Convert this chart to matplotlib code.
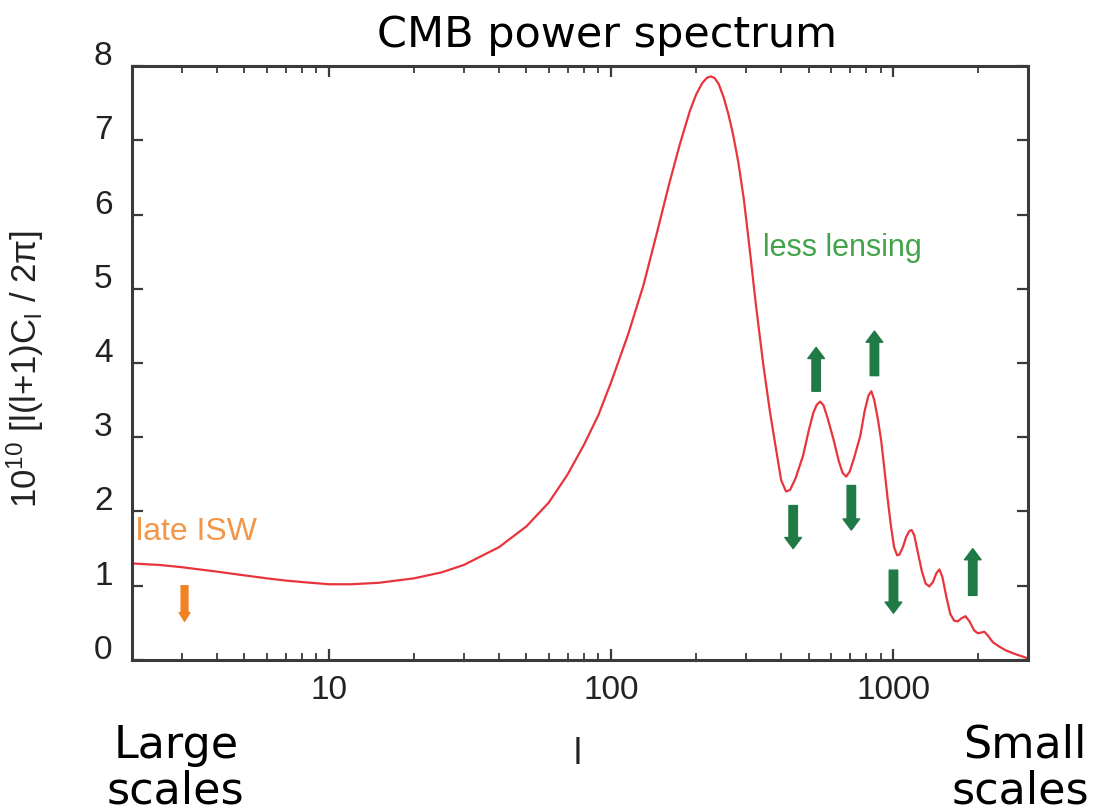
import matplotlib.pyplot as plt
from matplotlib.transforms import ScaledTranslation

# multipole l and 10^10 l(l+1)C_l/2pi
multipole = [2, 2.5, 3, 4, 5, 6, 7, 8, 10, 12, 15, 20, 25, 30, 40, 50, 60, 70, 80, 90,
             100, 115, 130, 145, 160, 175, 190, 200, 210, 218, 225, 232, 240, 250, 260,
             270, 282, 295, 310, 325, 345, 365, 385, 400, 416, 430, 450, 478, 500, 520,
             535, 550, 565, 585, 612, 640, 660, 680, 700, 725, 763, 790, 815, 835, 855,
             880, 905, 930, 955, 980, 1005, 1030, 1050, 1080, 1110, 1140, 1160, 1185,
             1220, 1260, 1300, 1340, 1380, 1420, 1455, 1490, 1540, 1590, 1640, 1690,
             1740, 1800, 1860, 1930, 1990, 2050, 2100, 2160, 2250, 2350, 2500, 2700,
             2850, 3000]
power = [1.30, 1.28, 1.25, 1.19, 1.14, 1.10, 1.07, 1.05, 1.02, 1.02, 1.04, 1.10, 1.18,
         1.28, 1.52, 1.80, 2.12, 2.50, 2.90, 3.30, 3.75, 4.40, 5.05, 5.75, 6.40, 6.95,
         7.40, 7.62, 7.77, 7.84, 7.86, 7.84, 7.76, 7.58, 7.35, 7.08, 6.70, 6.20, 5.50,
         4.80, 4.00, 3.34, 2.80, 2.42, 2.27, 2.29, 2.45, 2.75, 3.08, 3.33, 3.44, 3.48,
         3.43, 3.25, 2.98, 2.68, 2.52, 2.47, 2.54, 2.72, 3.02, 3.35, 3.56, 3.62, 3.50,
         3.25, 2.95, 2.55, 2.15, 1.80, 1.52, 1.41, 1.42, 1.52, 1.66, 1.74, 1.75, 1.68,
         1.45, 1.20, 1.03, 0.99, 1.05, 1.17, 1.22, 1.12, 0.85, 0.62, 0.53, 0.52,
         0.56, 0.59, 0.52, 0.40, 0.36, 0.37, 0.38, 0.33, 0.24, 0.19, 0.13, 0.08,
         0.05, 0.02]

# lensing arrows (green): position in l, start and end value
arrow_l = [441, 532, 709, 856, 1000, 1910]
arrow_from = [2.08, 3.62, 2.35, 3.83, 1.21, 0.87]
arrow_to = [1.50, 4.21, 1.75, 4.43, 0.63, 1.50]

# late ISW arrow (orange)
isw_l = [3.07]
isw_from = [1.0]
isw_to = [0.52]

yticks = [0, 1, 2, 3, 4, 5, 6, 7, 8]
xticks = [10, 100, 1000]

narrow = ['Liberation Sans Narrow', 'Liberation Sans', 'DejaVu Sans']
edge = '#3a3a3a'

fig = plt.figure(figsize=(10.93, 8.11), dpi=100)
ax = fig.add_axes([0.1208, 0.1862, 0.8198, 0.7324])

ax.plot(multipole, power, color='#e8343c', lw=1.6)

ax.set_xscale('log')
ax.set_xlim(2, 3000)
ax.set_ylim(0, 8)
ax.set_yticks(yticks)
ax.set_xticks(xticks)
ax.set_xticklabels([str(t) for t in xticks])

for s in ax.spines.values():
    s.set_color(edge)
    s.set_linewidth(2.2)
ax.tick_params(which='both', direction='in', top=True, right=True, color=edge)
ax.tick_params(which='major', length=8, width=1.6, labelsize=24)
ax.tick_params(axis='y', pad=14)
ax.tick_params(axis='x', pad=11)
ax.tick_params(which='minor', length=5, width=1.3)
ax.tick_params(axis='y', which='minor', left=False, right=False)
for lab in ax.get_xticklabels() + ax.get_yticklabels():
    lab.set_family(narrow)
    lab.set_color('#222222')
shift = ScaledTranslation(0, 0.13, fig.dpi_scale_trans)
for lab in ax.get_yticklabels():
    lab.set_transform(lab.get_transform() + shift)

ax.set_ylabel(r'$\mathregular{10^{10}}$ [l(l+1)C$_\mathregular{l}$ / 2π]',
              family=narrow, fontsize=25, color='#222222')
ax.yaxis.set_label_coords(-0.096, 0.49)
ax.set_xlabel('l', family=narrow, fontsize=26, color='#222222')
ax.xaxis.set_label_coords(0.497, -0.13)

# arrows
for l, a, b in zip(arrow_l, arrow_from, arrow_to):
    ax.annotate('', xy=(l, b), xytext=(l, a),
                arrowprops=dict(arrowstyle='simple,head_width=0.75,head_length=0.5,tail_width=0.38',
                                color='#1f7a45', mutation_scale=16, shrinkA=0, shrinkB=0))
for l, a, b in zip(isw_l, isw_from, isw_to):
    ax.annotate('', xy=(l, b), xytext=(l, a),
                arrowprops=dict(arrowstyle='simple,head_width=0.55,head_length=0.45,tail_width=0.35',
                                color='#f08224', mutation_scale=14, shrinkA=0, shrinkB=0))

ax.text(2.06, 1.72, 'late ISW', family=narrow, fontsize=23, color='#f2964a', va='center')
ax.text(345, 5.55, 'less lensing', family=narrow, fontsize=22, color='#43a34a', va='center')

fig.text(607 / 1093, 1 - 35 / 811, 'CMB power spectrum', fontsize=31,
         ha='center', va='center', color='black')
fig.text(176 / 1093, 1 - 758 / 811, 'Large', fontsize=32, ha='center', va='baseline')
fig.text(175 / 1093, 1 - 803 / 811, 'scales', fontsize=32, ha='center', va='baseline')
fig.text(1025 / 1093, 1 - 758 / 811, 'Small', fontsize=32, ha='center', va='baseline')
fig.text(1020 / 1093, 1 - 803 / 811, 'scales', fontsize=32, ha='center', va='baseline')

fig.savefig('out.png', dpi=100)
